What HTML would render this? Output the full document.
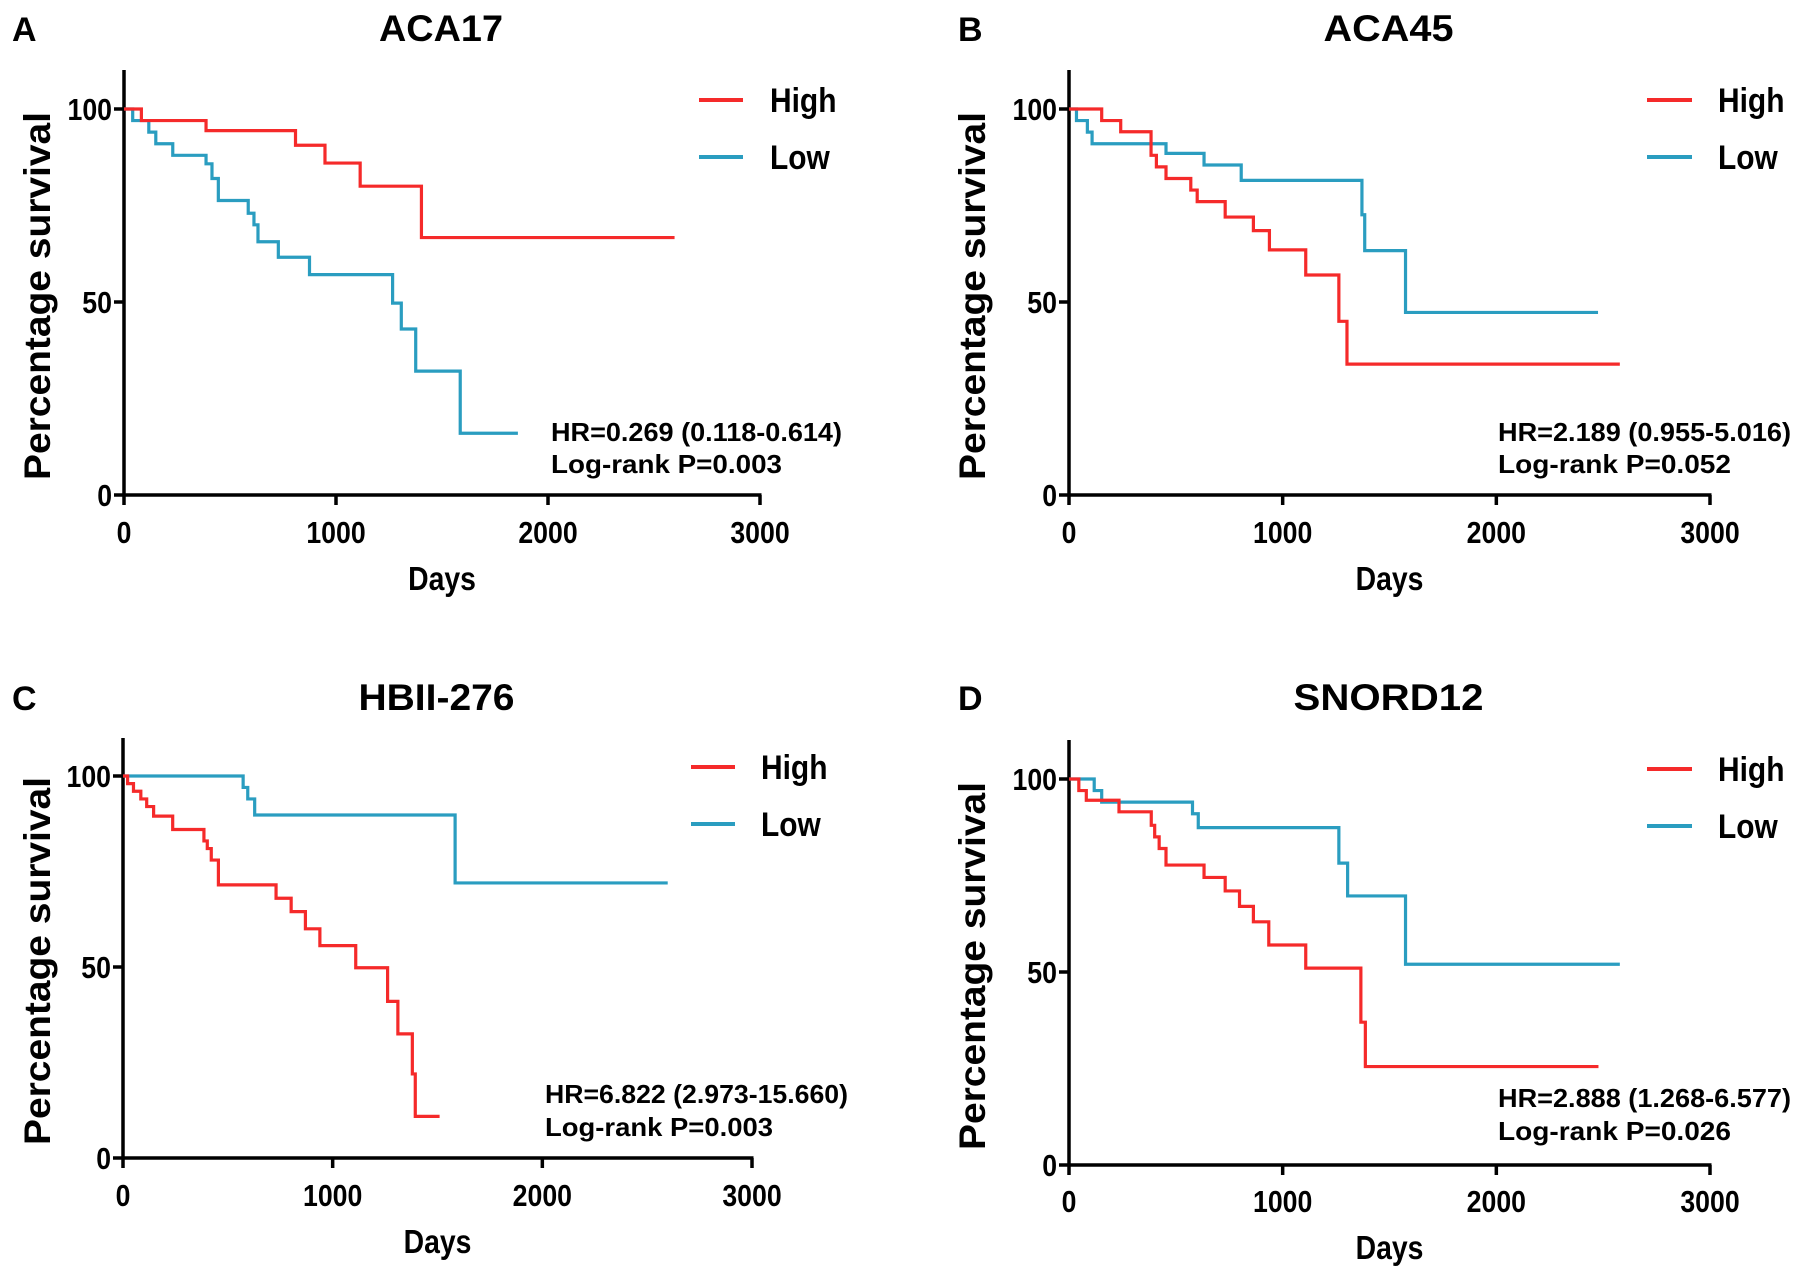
<!DOCTYPE html>
<html><head><meta charset="utf-8"><style>
html,body{margin:0;padding:0;background:#fff;}
svg{display:block;font-family:"Liberation Sans",Arial,sans-serif;font-weight:bold;}
</style></head><body>
<svg id="fig" width="1795" height="1279" viewBox="0 0 1795 1279" xmlns="http://www.w3.org/2000/svg"></svg>
<script>
// ---- data (days, percentage survival) ----
const panelTitles = ["ACA17", "ACA45", "HBII-276", "SNORD12"];
const panelLetters = ["A", "B", "C", "D"];
const hrTexts = ["HR=0.269 (0.118-0.614)", "HR=2.189 (0.955-5.016)", "HR=6.822 (2.973-15.660)", "HR=2.888 (1.268-6.577)"];
const pTexts = ["Log-rank P=0.003", "Log-rank P=0.052", "Log-rank P=0.003", "Log-rank P=0.026"];
const xTicks = [0, 1000, 2000, 3000];
const yTicks = [0, 50, 100];
const legendLabels = ["High", "Low"];

const aHighT = [82, 387, 809, 948, 1114, 1403];
const aHighS = [97, 94.4, 90.6, 86, 80, 66.7];
const aHighEnd = 2597;
const aLowT = [41, 117, 150, 230, 387, 415, 445, 586, 613, 632, 728, 875, 1267, 1308, 1376, 1586];
const aLowS = [97, 94, 91, 88, 85.8, 82, 76.3, 73, 70, 65.6, 61.6, 57.1, 49.7, 43, 32.1, 16];
const aLowEnd = 1858;

const bHighT = [153, 242, 384, 409, 454, 570, 600, 731, 863, 938, 1108, 1263, 1301];
const bHighS = [97, 94.1, 88, 85, 82, 79, 76, 72, 68.5, 63.5, 57, 45, 33.9];
const bHighEnd = 2578;
const bLowT = [35, 86, 108, 454, 632, 806, 1371, 1384, 1575];
const bLowS = [97, 94, 91, 88.5, 85.5, 81.5, 72.6, 63.3, 47.3];
const bLowEnd = 2476;

const cHighT = [22, 50, 85, 113, 146, 237, 386, 402, 421, 455, 730, 802, 870, 939, 1110, 1262, 1311, 1380, 1394];
const cHighS = [98, 96, 94, 92, 89.5, 86, 83, 81, 78, 71.5, 68, 64.5, 60, 55.6, 49.8, 41, 32.5, 22, 10.9];
const cHighEnd = 1510;
const cLowT = [573, 595, 628, 1584];
const cLowS = [97, 94, 89.8, 72];
const cLowEnd = 2598;

const dHighT = [46, 81, 234, 385, 401, 422, 454, 632, 731, 798, 863, 935, 1108, 1366, 1387];
const dHighS = [97, 94.5, 91.5, 88, 85, 82, 77.7, 74.5, 71, 67, 63, 57, 51, 37, 25.5];
const dHighEnd = 2478;
const dLowT = [118, 153, 578, 605, 1263, 1304, 1575];
const dLowS = [97, 94, 91, 87.4, 78.2, 69.7, 52];
const dLowEnd = 2578;

const seriesHigh = [[aHighT, aHighS, aHighEnd], [bHighT, bHighS, bHighEnd], [cHighT, cHighS, cHighEnd], [dHighT, dHighS, dHighEnd]];
const seriesLow = [[aLowT, aLowS, aLowEnd], [bLowT, bLowS, bLowEnd], [cLowT, cLowS, cLowEnd], [dLowT, dLowS, dLowEnd]];

// ---- layout ----
const geo = [
  {x0:124, x1:760, y100:109, y0:495, top:70, letterX:12, legLine:[699,743], legText:770, legY:[100,157], hrX:551, hrY:[441,473], tickY:543, daysY:590, titleY:41, ytX:37, titleW:124, hrW:291, pW:231},
  {x0:1069, x1:1710, y100:109, y0:495, top:70, letterX:958, legLine:[1647,1692], legText:1718, legY:[100,157], hrX:1498, hrY:[441,473], tickY:543, daysY:590, titleY:41, ytX:972, titleW:130, hrW:293, pW:233},
  {x0:123, x1:752, y100:776, y0:1158, top:738, letterX:12, legLine:[691,735], legText:761, legY:[767,824], hrX:545, hrY:[1103,1136], tickY:1206, daysY:1253, titleY:710, ytX:37, titleW:156, hrW:303, pW:228},
  {x0:1069, x1:1710, y100:779, y0:1165, top:740, letterX:958, legLine:[1647,1692], legText:1718, legY:[769,826], hrX:1498, hrY:[1107,1140], tickY:1212, daysY:1259, titleY:710, ytX:972, titleW:190, hrW:293, pW:233}
];
const RED = "#f52a2a", BLUE = "#2a9dc0";
const NS = "http://www.w3.org/2000/svg";
const svg = document.getElementById("fig");
function mk(tag, attrs, parent){
  const e = document.createElementNS(NS, tag);
  for (const k in attrs) e.setAttribute(k, attrs[k]);
  (parent || svg).appendChild(e);
  return e;
}
function txt(parent, s, attrs){ const t = mk("text", attrs, parent); t.textContent = s; return t; }
function condense(t, f){
  const w = t.getComputedTextLength();
  t.setAttribute("textLength", (w * f).toFixed(1));
  t.setAttribute("lengthAdjust", "spacingAndGlyphs");
}

geo.forEach((g, i) => {
  const xs = v => g.x0 + (g.x1 - g.x0) * v / 3000;
  const ys = v => g.y0 - (g.y0 - g.y100) * v / 100;
  const grp = mk("g", {});
  
  

  let e = txt(grp, panelLetters[i], {x:g.letterX, y:g.titleY, "font-size":34});
  
  
  e = txt(grp, panelTitles[i], {x:xs(1500)-1, y:g.titleY, "font-size":37, "text-anchor":"middle", textLength:g.titleW, lengthAdjust:"spacingAndGlyphs"});
  
  

  // axes
  e = mk("line", {x1:g.x0, y1:g.top, x2:g.x0, y2:g.y0+1.5, stroke:"#000", "stroke-width":3.5}, grp);
  
  
  e = mk("line", {x1:g.x0-1.5, y1:g.y0, x2:g.x1+1.5, y2:g.y0, stroke:"#000", "stroke-width":3.5}, grp);
  
  
  xTicks.forEach(t => {
    const l = mk("line", {x1:xs(t), y1:g.y0, x2:xs(t), y2:g.y0+10, stroke:"#000", "stroke-width":3.5}, grp);
    
    
    const tl = txt(grp, String(t), {x:xs(t), y:g.tickY, "font-size":31, "text-anchor":"middle"});
    
    
    condense(tl, 0.86);
  });
  yTicks.forEach(t => {
    const l = mk("line", {x1:g.x0-10, y1:ys(t), x2:g.x0, y2:ys(t), stroke:"#000", "stroke-width":3.5}, grp);
    
    
    const tl = txt(grp, String(t), {x:g.x0-12, y:ys(t)+11, "font-size":31, "text-anchor":"end"});
    
    
    condense(tl, 0.86);
  });
  e = txt(grp, "Days", {x:xs(1500), y:g.daysY, "font-size":33, "text-anchor":"middle"});
  
  
  condense(e, 0.86);
  const cy = (g.y0 + g.y100) / 2 - 6;
  e = txt(grp, "Percentage survival", {x:g.ytX, y:cy, "font-size":37, "text-anchor":"middle", transform:`rotate(-90 ${g.ytX} ${cy}) translate(0 13)`, textLength:368, lengthAdjust:"spacingAndGlyphs"});
  
  

  // curves
  const draw = (ser, color, name) => {
    const T = ser[0], S = ser[1], end = ser[2];
    let d = `M${xs(0)},${ys(100)}`;
    for (let k = 0; k < T.length; k++) d += ` H${xs(T[k])} V${ys(S[k])}`;
    d += ` H${xs(end)}`;
    const p = mk("path", {d:d, fill:"none", stroke:color, "stroke-width":3.2, "stroke-linejoin":"miter"}, grp);
    
    
  };
  draw(seriesLow[i], BLUE, 'low-curve');
  draw(seriesHigh[i], RED, 'high-curve');

  // legend
  [RED, BLUE].forEach((c, k) => {
    const l = mk("line", {x1:g.legLine[0], y1:g.legY[k], x2:g.legLine[1], y2:g.legY[k], stroke:c, "stroke-width":4}, grp);
    
    
    const t = txt(grp, legendLabels[k], {x:g.legText, y:g.legY[k]+12, "font-size":34});
    
    
    condense(t, 0.88);
  });

  e = txt(grp, hrTexts[i], {x:g.hrX, y:g.hrY[0], "font-size":26, textLength:g.hrW, lengthAdjust:"spacingAndGlyphs"});
  
  
  e = txt(grp, pTexts[i], {x:g.hrX, y:g.hrY[1], "font-size":26, textLength:g.pW, lengthAdjust:"spacingAndGlyphs"});
  
  
});
</script>
</body></html>
